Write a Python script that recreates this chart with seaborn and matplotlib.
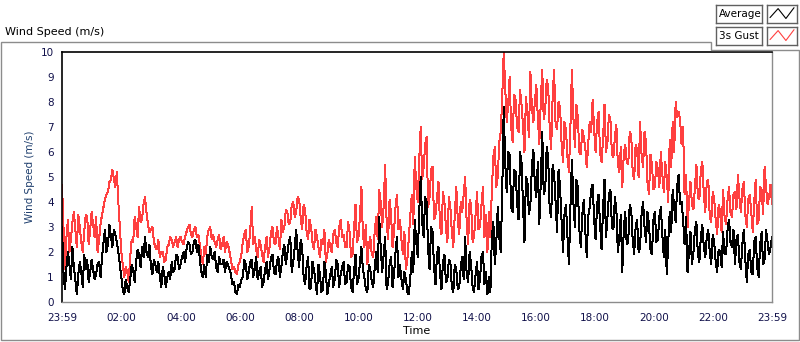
import numpy as np
import matplotlib
matplotlib.use("Agg")
import matplotlib.pyplot as plt
import matplotlib.patches as patches
import seaborn as sns

# 3-minute samples (m/s), 23:59 -> 23:59, one row per 2.4 h
average = [
    3.0, 1.2, 0.5, 1.4, 2.0, 1.5, 0.9, 2.2, 1.4, 0.9, 0.3, 1.1, 1.6, 1.2, 0.6, 1.9, 1.3, 1.7, 0.8, 1.2, 1.7, 1.3, 0.9, 1.1,
    1.5, 1.6, 1.0, 1.8, 2.4, 2.9, 2.0, 2.3, 3.1, 2.6, 2.2, 2.9, 2.7, 2.4, 2.0, 1.5, 1.0, 0.5, 0.3, 0.9, 0.6, 0.4, 0.9, 1.5,
    1.3, 0.8, 1.6, 2.1, 1.9, 1.4, 2.2, 1.8, 2.6, 2.0, 1.8, 2.3, 1.4, 1.1, 1.7, 1.5, 1.2, 1.6, 1.0, 0.6, 1.4, 1.1, 0.6, 1.0,
    1.2, 0.9, 1.6, 1.2, 1.3, 1.9, 1.8, 1.3, 1.5, 1.8, 2.0, 1.6, 2.1, 2.4, 2.3, 1.9, 2.0, 2.4, 2.5, 2.0, 2.3, 1.7, 1.2, 1.0,
    1.5, 1.0, 1.9, 1.6, 2.2, 1.8, 1.7, 2.0, 1.4, 1.2, 1.8, 1.5, 1.5, 1.7, 1.2, 1.6, 1.5, 1.3, 1.1, 0.7, 0.8, 0.4, 0.3, 0.7,
    0.6, 0.9, 1.0, 1.7, 1.5, 0.9, 1.2, 1.6, 1.7, 1.0, 1.3, 1.8, 0.9, 1.2, 1.4, 0.6, 0.8, 1.3, 1.6, 0.9, 1.3, 1.8, 1.9, 1.2,
    1.1, 1.6, 1.8, 1.0, 1.4, 2.0, 2.3, 1.5, 1.9, 2.4, 2.6, 1.2, 1.6, 2.2, 2.9, 2.0, 1.4, 2.5, 2.2, 1.0, 0.7, 1.4, 1.8, 0.5,
    0.6, 1.6, 1.3, 0.8, 0.3, 1.5, 1.1, 0.4, 0.5, 1.6, 1.2, 0.3, 0.7, 1.1, 1.4, 0.6, 0.9, 1.7, 1.5, 0.6, 1.1, 1.4, 1.6, 0.7,
    0.8, 1.5, 1.4, 0.6, 0.4, 1.2, 1.9, 0.7, 0.9, 1.6, 2.2, 1.3, 1.0, 0.5, 0.4, 1.5, 1.3, 0.8, 0.6, 1.4, 2.0, 1.2, 3.4, 2.2,
    1.2, 1.9, 2.6, 0.5, 0.8, 1.5, 1.8, 0.6, 1.1, 2.0, 2.6, 1.0, 1.5, 0.9, 0.5, 1.2, 0.9, 0.4, 0.3, 1.0, 2.0, 1.2, 3.3, 2.4,
    1.8, 3.6, 5.0, 3.2, 2.6, 4.2, 4.0, 2.1, 1.3, 3.0, 2.8, 1.4, 0.7, 1.9, 2.2, 1.2, 0.5, 1.6, 1.9, 0.8, 0.9, 1.7, 1.6, 0.6,
    0.4, 1.5, 1.3, 0.5, 0.6, 1.4, 1.8, 0.9, 2.6, 1.1, 0.8, 2.0, 1.5, 0.6, 0.4, 1.1, 1.6, 0.5, 0.9, 1.8, 2.0, 0.7, 1.2, 0.3,
    1.0, 0.4, 2.6, 3.2, 1.5, 2.4, 3.8, 2.6, 2.0, 4.4, 7.8, 5.6, 4.4, 6.0, 5.9, 3.8, 3.6, 5.3, 5.2, 4.0, 3.3, 6.0, 5.6, 3.9,
    2.4, 5.0, 4.8, 3.5, 3.9, 5.4, 6.1, 4.7, 4.2, 5.6, 3.1, 4.8, 6.8, 4.3, 4.5, 6.2, 5.8, 3.7, 3.4, 5.5, 5.1, 4.0, 2.8, 5.3,
    4.6, 3.3, 2.0, 3.5, 3.9, 2.6, 1.5, 3.8, 5.7, 4.0, 3.0, 4.9, 4.6, 2.9, 2.2, 3.5, 4.1, 2.9, 1.8, 3.4, 3.8, 4.5, 4.7, 3.3,
    2.5, 3.9, 4.3, 3.1, 2.1, 3.7, 4.9, 2.6, 3.4, 4.3, 4.5, 3.0, 2.9, 4.2, 3.7, 2.0, 2.6, 3.5, 1.2, 2.9, 3.6, 2.3, 2.4, 3.9,
    3.7, 2.5, 1.9, 3.0, 3.3, 2.0, 2.2, 3.5, 4.0, 3.0, 2.4, 3.6, 3.1, 2.1, 1.9, 3.3, 3.6, 2.4, 2.5, 3.4, 3.8, 2.7, 1.8, 2.9,
    1.1, 2.4, 3.6, 2.8, 4.5, 3.8, 3.2, 4.6, 5.1, 3.9, 4.0, 3.3, 2.3, 3.4, 1.2, 2.0, 2.8, 1.5, 2.0, 2.9, 3.2, 1.9, 1.6, 2.6,
    3.1, 2.2, 1.8, 2.6, 2.9, 2.0, 1.5, 2.7, 2.4, 1.6, 1.2, 2.1, 2.0, 1.4, 2.8, 1.9, 1.9, 2.9, 3.3, 2.4, 2.2, 2.9, 1.5, 2.5,
    2.7, 1.6, 1.3, 2.3, 2.9, 1.7, 0.8, 1.9, 2.1, 1.2, 1.1, 2.4, 2.6, 1.4, 1.0, 2.3, 2.8, 1.5, 1.7, 2.9, 2.4, 1.9, 2.2, 2.6,
]
gust = [
    4.7, 3.0, 1.3, 2.6, 3.3, 2.0, 2.5, 3.2, 3.6, 2.9, 2.2, 3.5, 3.0, 2.4, 2.0, 2.8, 3.5, 3.4, 2.3, 2.9, 3.6, 3.1, 2.6, 3.4,
    2.0, 2.5, 3.1, 3.5, 3.8, 4.1, 4.3, 4.4, 4.8, 4.9, 5.3, 4.9, 4.6, 5.2, 4.0, 3.0, 2.0, 1.5, 1.0, 1.4, 1.2, 0.8, 1.8, 2.5,
    2.4, 3.4, 3.0, 2.6, 3.8, 3.2, 3.3, 3.9, 4.2, 3.6, 3.1, 2.8, 2.9, 3.0, 2.4, 2.2, 2.1, 2.5, 1.8, 2.0, 2.0, 1.6, 1.7, 2.2,
    2.3, 2.6, 2.5, 2.2, 2.4, 2.6, 2.2, 2.5, 2.6, 2.4, 2.3, 2.6, 2.8, 3.0, 3.1, 2.7, 2.6, 2.9, 3.0, 2.6, 2.7, 2.3, 1.8, 1.5,
    2.2, 1.9, 2.6, 2.9, 3.0, 2.5, 2.7, 2.4, 2.2, 2.5, 2.7, 2.1, 2.3, 2.6, 2.0, 2.4, 2.3, 2.0, 1.7, 1.3, 1.4, 1.2, 1.1, 1.5,
    1.6, 1.9, 2.4, 2.7, 2.9, 2.0, 2.2, 2.9, 3.8, 2.3, 2.6, 2.1, 1.8, 2.5, 2.3, 1.9, 1.6, 2.2, 2.6, 1.8, 2.2, 2.8, 3.0, 2.4,
    2.3, 3.0, 2.6, 2.1, 3.3, 2.8, 3.0, 3.7, 3.6, 3.1, 3.2, 3.9, 4.0, 3.4, 3.6, 4.2, 4.1, 3.4, 2.9, 3.9, 3.7, 2.8, 2.5, 3.3,
    3.0, 2.4, 2.1, 2.9, 2.6, 2.2, 1.8, 2.5, 2.3, 2.9, 1.6, 1.9, 2.5, 2.2, 2.0, 2.7, 2.9, 2.4, 2.2, 3.0, 3.3, 2.6, 2.7, 2.2,
    2.2, 3.2, 2.8, 1.8, 1.9, 2.9, 3.9, 2.4, 2.6, 3.4, 4.6, 2.7, 2.2, 3.1, 1.5, 2.3, 2.6, 1.9, 1.8, 2.9, 3.4, 2.5, 4.5, 4.0,
    3.0, 3.8, 5.5, 3.2, 2.5, 4.1, 3.5, 2.2, 2.8, 3.8, 4.3, 2.9, 3.3, 2.5, 1.9, 2.8, 1.3, 1.7, 2.6, 3.5, 4.3, 3.1, 5.8, 4.6,
    4.0, 5.7, 7.0, 4.9, 5.4, 6.3, 6.6, 3.8, 4.2, 5.3, 5.4, 3.3, 3.5, 4.2, 4.8, 3.1, 2.7, 4.4, 4.0, 3.0, 2.4, 4.2, 3.8, 2.8,
    2.2, 3.5, 4.6, 3.3, 2.7, 4.0, 3.6, 4.3, 5.0, 3.2, 2.3, 4.1, 3.9, 2.4, 2.6, 3.5, 4.4, 2.9, 3.0, 3.9, 4.6, 2.6, 3.5, 2.0,
    3.6, 2.6, 4.5, 5.8, 6.2, 4.6, 5.0, 6.4, 6.8, 8.2, 10.0, 8.6, 7.2, 7.9, 9.0, 7.0, 6.4, 8.3, 8.1, 7.0, 6.8, 8.5, 7.9, 7.1,
    6.0, 8.2, 7.5, 6.6, 9.2, 7.8, 7.2, 8.0, 8.7, 7.4, 6.3, 8.0, 9.3, 7.3, 7.7, 8.9, 8.6, 7.0, 6.1, 8.2, 9.3, 7.1, 6.9, 8.0,
    7.8, 6.4, 5.6, 7.2, 6.9, 5.8, 5.2, 7.0, 9.3, 7.4, 6.2, 7.9, 7.4, 6.0, 5.9, 6.9, 6.6, 6.2, 5.4, 6.3, 7.2, 6.8, 8.1, 6.9,
    6.0, 7.2, 7.6, 6.0, 5.6, 6.5, 7.9, 6.0, 6.4, 7.5, 7.3, 5.9, 5.8, 6.6, 7.1, 5.5, 5.2, 6.2, 4.6, 5.9, 6.3, 5.6, 5.5, 6.8,
    6.7, 5.2, 4.9, 6.3, 6.1, 5.0, 7.2, 5.9, 5.4, 6.8, 6.4, 4.8, 4.3, 5.9, 5.5, 4.5, 4.6, 5.6, 5.3, 4.6, 6.0, 5.1, 4.4, 5.6,
    5.0, 4.0, 6.5, 5.4, 7.2, 6.0, 8.0, 7.4, 7.6, 7.3, 6.3, 7.0, 4.3, 5.1, 3.0, 4.0, 4.8, 3.9, 3.7, 4.6, 5.5, 4.2, 4.1, 5.3,
    5.6, 4.3, 3.6, 4.8, 4.9, 3.4, 3.2, 4.4, 4.1, 3.3, 2.7, 3.9, 3.6, 2.8, 4.5, 3.4, 3.1, 4.1, 4.6, 3.6, 3.4, 4.3, 4.4, 3.7,
    5.1, 4.2, 3.6, 4.5, 4.8, 3.5, 3.0, 4.1, 4.3, 3.6, 2.8, 4.0, 4.9, 3.1, 3.3, 4.6, 4.5, 3.5, 5.4, 4.6, 3.9, 4.2, 4.7, 3.9,
]
tick_labels = ["23:59", "02:00", "04:00", "06:00", "08:00", "10:00", "12:00",
               "14:00", "16:00", "18:00", "20:00", "22:00", "23:59"]
tick_minutes = [0, 121, 241, 361, 481, 601, 721, 841, 961, 1081, 1201, 1321, 1440]

minutes = np.linspace(0, 1440, len(average))

sns.set_style("white")
plt.rcParams["font.family"] = ["DejaVu Sans"]

navy = "#10104a"
red = "#ff4040"
W, H = 800, 342

fig = plt.figure(figsize=(8, 3.42), dpi=100)

# outer panel frame, notched at the top right where the legend sits
frame_px = [(0.5, 42), (711, 42), (711, 50), (799, 50), (799, 340), (0.5, 340)]
fig.add_artist(patches.Polygon([(x / W, 1 - y / H) for x, y in frame_px], closed=True,
                               transform=fig.transFigure, fill=False, edgecolor="#8c8c8c", linewidth=1))
fig.text(5 / W, 1 - 32 / H, "Wind Speed (m/s)", fontsize=8, color="black", va="center", ha="left")

ax = fig.add_axes([62 / W, 40 / H, 710 / W, 250 / H])
sns.lineplot(x=minutes, y=gust, ax=ax, color=red, linewidth=0.72, antialiased=False)
sns.lineplot(x=minutes, y=average, ax=ax, color="black", linewidth=0.72, antialiased=False)

ax.set_xlim(0, 1440)
ax.set_ylim(0, 10)
ax.set_yticks(range(0, 11))
ax.set_xticks(tick_minutes)
ax.set_xticklabels(tick_labels)
ax.set_xticks(np.arange(1, 1440, 15), minor=True)
ax.tick_params(axis="both", which="major", direction="out", length=4, width=1,
               color="black", labelcolor=navy, labelsize=7.5, pad=2)
ax.tick_params(axis="x", which="minor", direction="out", length=2.5, width=1, color="black")
ax.tick_params(axis="x", which="major", length=5, pad=3)
ax.set_ylabel("Wind Speed (m/s)", fontsize=7.5, color="#1f3f6e", labelpad=4)
ax.set_xlabel("Time", fontsize=8, color="black", labelpad=2)
for side in ["top", "left"]:
    ax.spines[side].set_color("black")
    ax.spines[side].set_linewidth(1.2)
for side in ["bottom", "right"]:
    ax.spines[side].set_color("#8c8c8c")
    ax.spines[side].set_linewidth(1)

# legend boxes in the top-right corner
for row, (label, color) in enumerate([("Average", "black"), ("3s Gust", red)]):
    top = 5 + row * 22
    box = fig.add_axes([716 / W, 1 - (top + 18) / H, 46 / W, 18 / H], zorder=4)
    box.set_xticks([])
    box.set_yticks([])
    box.text(0.06, 0.5, label, fontsize=7.5, color="black", va="center", ha="left")
    icon = fig.add_axes([767 / W, 1 - (top + 18) / H, 30 / W, 18 / H], zorder=4)
    icon.plot([0.1, 0.37, 0.63, 0.9], [0.3, 0.8, 0.25, 0.85], color=color, linewidth=0.8)
    icon.set_xlim(0, 1)
    icon.set_ylim(0, 1)
    icon.set_xticks([])
    icon.set_yticks([])
    for a in (box, icon):
        for s in a.spines.values():
            s.set_color("#606060")
            s.set_linewidth(1)

fig.savefig("out.png", dpi=100)
